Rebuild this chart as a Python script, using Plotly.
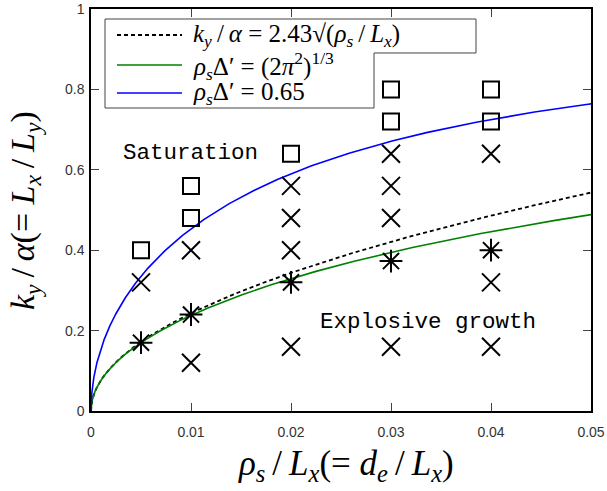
import numpy as np
import plotly.graph_objects as go

# ---------------- data ----------------
sq_x = [0.005, 0.01, 0.01, 0.02, 0.03, 0.03, 0.04, 0.04]
sq_y = [0.40, 0.56, 0.48, 0.64, 0.80, 0.72, 0.80, 0.72]

cross_x = [0.005, 0.01, 0.01, 0.02, 0.02, 0.02, 0.02, 0.03, 0.03, 0.03, 0.03, 0.04, 0.04, 0.04]
cross_y = [0.32, 0.40, 0.12, 0.56, 0.48, 0.40, 0.16, 0.64, 0.56, 0.48, 0.16, 0.64, 0.32, 0.16]

ast_x = [0.005, 0.01, 0.02, 0.03, 0.04]
ast_y = [0.17, 0.24, 0.32, 0.373, 0.40]

# theory curve constants (from legend)
coef_dash = 2.43                           # k_y/alpha = 2.43 sqrt(rho_s/L_x)
green_const = (2 * np.pi ** 2) ** (1 / 3)  # rho_s Delta' = (2 pi^2)^(1/3)
blue_const = 0.65                          # rho_s Delta' = 0.65

x_ticks = [0, 0.01, 0.02, 0.03, 0.04, 0.05]
x_ticklabels = ["0", "0.01", "0.02", "0.03", "0.04", "0.05"]
y_ticks = [0, 0.2, 0.4, 0.6, 0.8, 1]
y_ticklabels = ["0", "0.2", "0.4", "0.6", "0.8", "1"]

TS = "\u2009"  # thin space
legend_labels = [
    f"<i>k<sub>y</sub></i>{TS}/{TS}<i>α</i> = 2.43√(<i>ρ<sub>s</sub></i>{TS}/{TS}<i>L<sub>x</sub></i>)",
    "<i>ρ<sub>s</sub></i>Δ′ = (2<i>π</i><sup>2</sup>)<sup>1/3</sup>",
    "<i>ρ<sub>s</sub></i>Δ′ = 0.65",
]
x_title = f"<i>ρ<sub>s</sub></i>{TS}/{TS}<i>L<sub>x</sub></i>(= <i>d<sub>e</sub></i>{TS}/{TS}<i>L<sub>x</sub></i>)"
y_title = f"<i>k<sub>y</sub></i>{TS}/{TS}<i>α</i>(= <i>L<sub>x</sub></i>{TS}/{TS}<i>L<sub>y</sub></i>)"

# ---------------- curves ----------------
XMAX = 0.05


def delta_curve(c):
    # rho_s Delta' = 2*pi*(rho_s/L_x) * 2 kappa tan(kappa pi/2), kappa = sqrt(1-k^2)
    k = np.linspace(0.004, 0.95, 1500)
    kap = np.sqrt(1 - k ** 2)
    d = 2 * kap * np.tan(kap * np.pi / 2)
    x = c / (2 * np.pi * d)
    m = x <= XMAX * 1.002
    return x[m], k[m]


gx, gy = delta_curve(green_const)
bx, by = delta_curve(blue_const)
dx = np.linspace(0, XMAX, 800)
dy = coef_dash * np.sqrt(dx)

fig = go.Figure()
fig.add_trace(go.Scatter(x=dx, y=dy, mode="lines",
                         line=dict(color="black", width=1.8, dash="4px,3px"), showlegend=False))
fig.add_trace(go.Scatter(x=gx, y=gy, mode="lines",
                         line=dict(color="#008000", width=1.6), showlegend=False))
fig.add_trace(go.Scatter(x=bx, y=by, mode="lines",
                         line=dict(color="#0000ff", width=1.6), showlegend=False))

fig.add_trace(go.Scatter(x=sq_x, y=sq_y, mode="markers", showlegend=False,
                         marker=dict(symbol="square-open", size=16, color="black",
                                     line=dict(width=2, color="black"))))
fig.add_trace(go.Scatter(x=cross_x, y=cross_y, mode="markers", showlegend=False,
                         marker=dict(symbol="x-thin-open", size=18, color="black",
                                     line=dict(width=2, color="black"))))
fig.add_trace(go.Scatter(x=ast_x, y=ast_y, mode="markers", showlegend=False,
                         marker=dict(symbol="asterisk-open", size=19, color="black",
                                     line=dict(width=2, color="black"))))

# ---------------- layout helpers ----------------
W, H = 607, 491
L, R, T, B = 91, 591, 9, 411


def px(x):
    return (x - L) / (R - L)


def py(y):
    return (B - y) / (B - T)


shapes = []
# legend border (stepped shape)
pts = [(105, 19), (476, 19), (476, 53), (374, 53), (374, 108), (105, 108)]
path = "M " + " L ".join(f"{px(a):.5f},{py(b):.5f}" for a, b in pts) + " Z"
shapes.append(dict(type="path", path=path, xref="paper", yref="paper",
                   line=dict(color="#444", width=1), fillcolor="white", layer="above"))
rows_y = [35, 65, 93]
samples = [dict(color="black", width=1.8, dash="4px,3px"),
           dict(color="#008000", width=1.6),
           dict(color="#0000ff", width=1.6)]
for ry, ln in zip(rows_y, samples):
    shapes.append(dict(type="line", xref="paper", yref="paper",
                       x0=px(117), x1=px(182), y0=py(ry), y1=py(ry), line=ln, layer="above"))

annotations = []
for ry, lab in zip(rows_y, legend_labels):
    annotations.append(dict(text=lab, xref="paper", yref="paper", x=px(191), y=py(ry + 1),
                            xanchor="left", yanchor="middle", showarrow=False,
                            font=dict(family="Liberation Serif", size=25, color="black")))

annotations.append(dict(text="Saturation", xref="paper", yref="paper", x=px(121), y=py(153),
                        xanchor="left", yanchor="middle", showarrow=False,
                        font=dict(family="Liberation Mono", size=22.5, color="black")))
annotations.append(dict(text="Explosive growth", xref="paper", yref="paper", x=px(318), y=py(322),
                        xanchor="left", yanchor="middle", showarrow=False,
                        font=dict(family="Liberation Mono", size=22.5, color="black")))

# axis titles
annotations.append(dict(text=x_title, xref="paper", yref="paper", x=px(346), y=py(465),
                        xanchor="center", yanchor="middle", showarrow=False,
                        font=dict(family="Liberation Serif", size=35, color="black")))
annotations.append(dict(text=y_title, xref="paper", yref="paper", x=px(25), y=py(211),
                        xanchor="center", yanchor="middle", showarrow=False, textangle=-90,
                        font=dict(family="Liberation Serif", size=34, color="black")))

axis_common = dict(showgrid=False, zeroline=False, showline=True, linecolor="black", linewidth=1.5,
                   mirror="ticks", ticks="inside", ticklen=8, tickcolor="#444", tickwidth=1,
                   automargin=False,
                   tickfont=dict(family="Liberation Sans", size=14, color="#333"))

fig.update_layout(
    width=W, height=H,
    margin=dict(l=L, r=W - R, t=T, b=H - B, autoexpand=False),
    paper_bgcolor="white", plot_bgcolor="white",
    xaxis=dict(range=[0, XMAX], tickvals=x_ticks, ticktext=x_ticklabels,
               ticklabelstandoff=7, **axis_common),
    yaxis=dict(range=[0, 1], tickvals=y_ticks, ticktext=y_ticklabels,
               ticklabelstandoff=2, **axis_common),
    shapes=shapes, annotations=annotations, showlegend=False,
)

fig.write_html("out.html", config={"displayModeBar": False},
               post_script="document.body.style.margin='0';document.body.style.overflow='hidden';")
